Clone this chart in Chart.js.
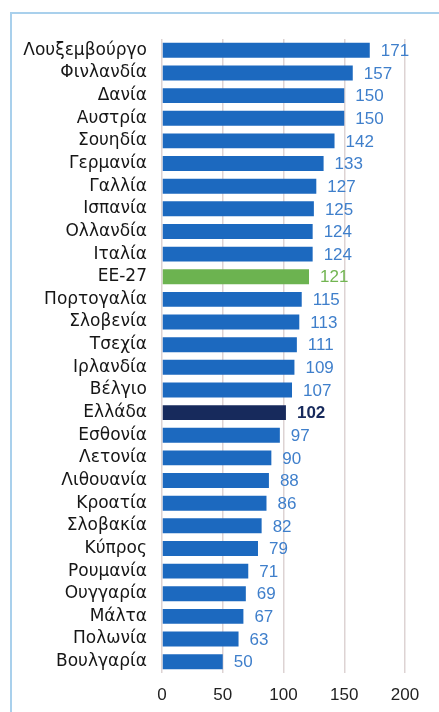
<!DOCTYPE html>
<html>
<head>
<meta charset="utf-8">
<script src="https://cdn.jsdelivr.net/npm/chart.js@4/dist/chart.umd.min.js"></script>
<style>
  html, body { margin: 0; padding: 0; background: #fff; }
  #wrap { position: relative; width: 439px; height: 712px; }
  #frame { position: absolute; left: 10px; top: 12px; width: 440px; height: 720px;
           border-left: 2px solid #a9d0ec; border-top: 2px solid #a9d0ec; }
  canvas { position: absolute; left: 0; top: 0; }
</style>
</head>
<body>
<div id="wrap">
  <div id="frame"></div>
  <canvas id="chart" width="439" height="712"></canvas>
</div>
<script>
const countries = ['Λουξεμβούργο', 'Φινλανδία', 'Δανία', 'Αυστρία', 'Σουηδία', 'Γερμανία', 'Γαλλία',
  'Ισπανία', 'Ολλανδία', 'Ιταλία', 'ΕΕ-27', 'Πορτογαλία', 'Σλοβενία', 'Τσεχία', 'Ιρλανδία', 'Βέλγιο',
  'Ελλάδα', 'Εσθονία', 'Λετονία', 'Λιθουανία', 'Κροατία', 'Σλοβακία', 'Κύπρος', 'Ρουμανία',
  'Ουγγαρία', 'Μάλτα', 'Πολωνία', 'Βουλγαρία'];
const values = [171, 157, 150, 150, 142, 133, 127, 125, 124, 124, 121, 115, 113, 111, 109, 107,
  102, 97, 90, 88, 86, 82, 79, 71, 69, 67, 63, 50];
const xTicks = [0, 50, 100, 150, 200];

const BLUE = '#1c69bf', GREEN = '#6cb350', NAVY = '#172a5c';
const barColors = countries.map(c => c === 'ΕΕ-27' ? GREEN : (c === 'Ελλάδα' ? NAVY : BLUE));
const labelColors = countries.map(c => c === 'ΕΕ-27' ? '#72b552' : (c === 'Ελλάδα' ? NAVY : '#3f7fcb'));

const valueLabels = {
  id: 'valueLabels',
  afterDatasetsDraw(chart) {
    const ctx = chart.ctx;
    const meta = chart.getDatasetMeta(0);
    ctx.save();
    ctx.textBaseline = 'middle';
    ctx.textAlign = 'left';
    meta.data.forEach((bar, i) => {
      const greece = countries[i] === 'Ελλάδα';
      ctx.font = (greece ? 'bold ' : '') + '17px "Liberation Sans", Arial, sans-serif';
      ctx.fillStyle = labelColors[i];
      ctx.fillText(values[i], bar.x + 11, bar.y + 1);
    });
    ctx.restore();
  }
};

new Chart(document.getElementById('chart'), {
  type: 'bar',
  data: {
    labels: countries,
    datasets: [{
      data: values,
      backgroundColor: barColors,
      categoryPercentage: 1,
      barPercentage: 0.66
    }]
  },
  options: {
    indexAxis: 'y',
    responsive: false,
    animation: false,
    layout: { padding: { top: 39, right: 34, left: 0, bottom: 0 } },
    scales: {
      x: {
        min: 0, max: 200,
        afterBuildTicks: axis => { axis.ticks = xTicks.map(v => ({ value: v })); },
        border: { display: false },
        grid: { color: '#ddd3d3', lineWidth: 1.5, drawTicks: false },
        ticks: { padding: 12, color: '#222', font: { size: 17, family: '"Liberation Sans", Arial, sans-serif' } },
        afterFit: axis => { axis.height = 39; }
      },
      y: {
        border: { display: false },
        grid: { display: false, drawTicks: false },
        ticks: { padding: 15, color: '#161616', autoSkip: false, font: { size: 17, family: '"DejaVu Sans", Verdana, sans-serif' } },
        afterFit: axis => { axis.width = 162; }
      }
    },
    plugins: {
      legend: { display: false },
      tooltip: { enabled: false }
    }
  },
  plugins: [valueLabels]
});
</script>
</body>
</html>
